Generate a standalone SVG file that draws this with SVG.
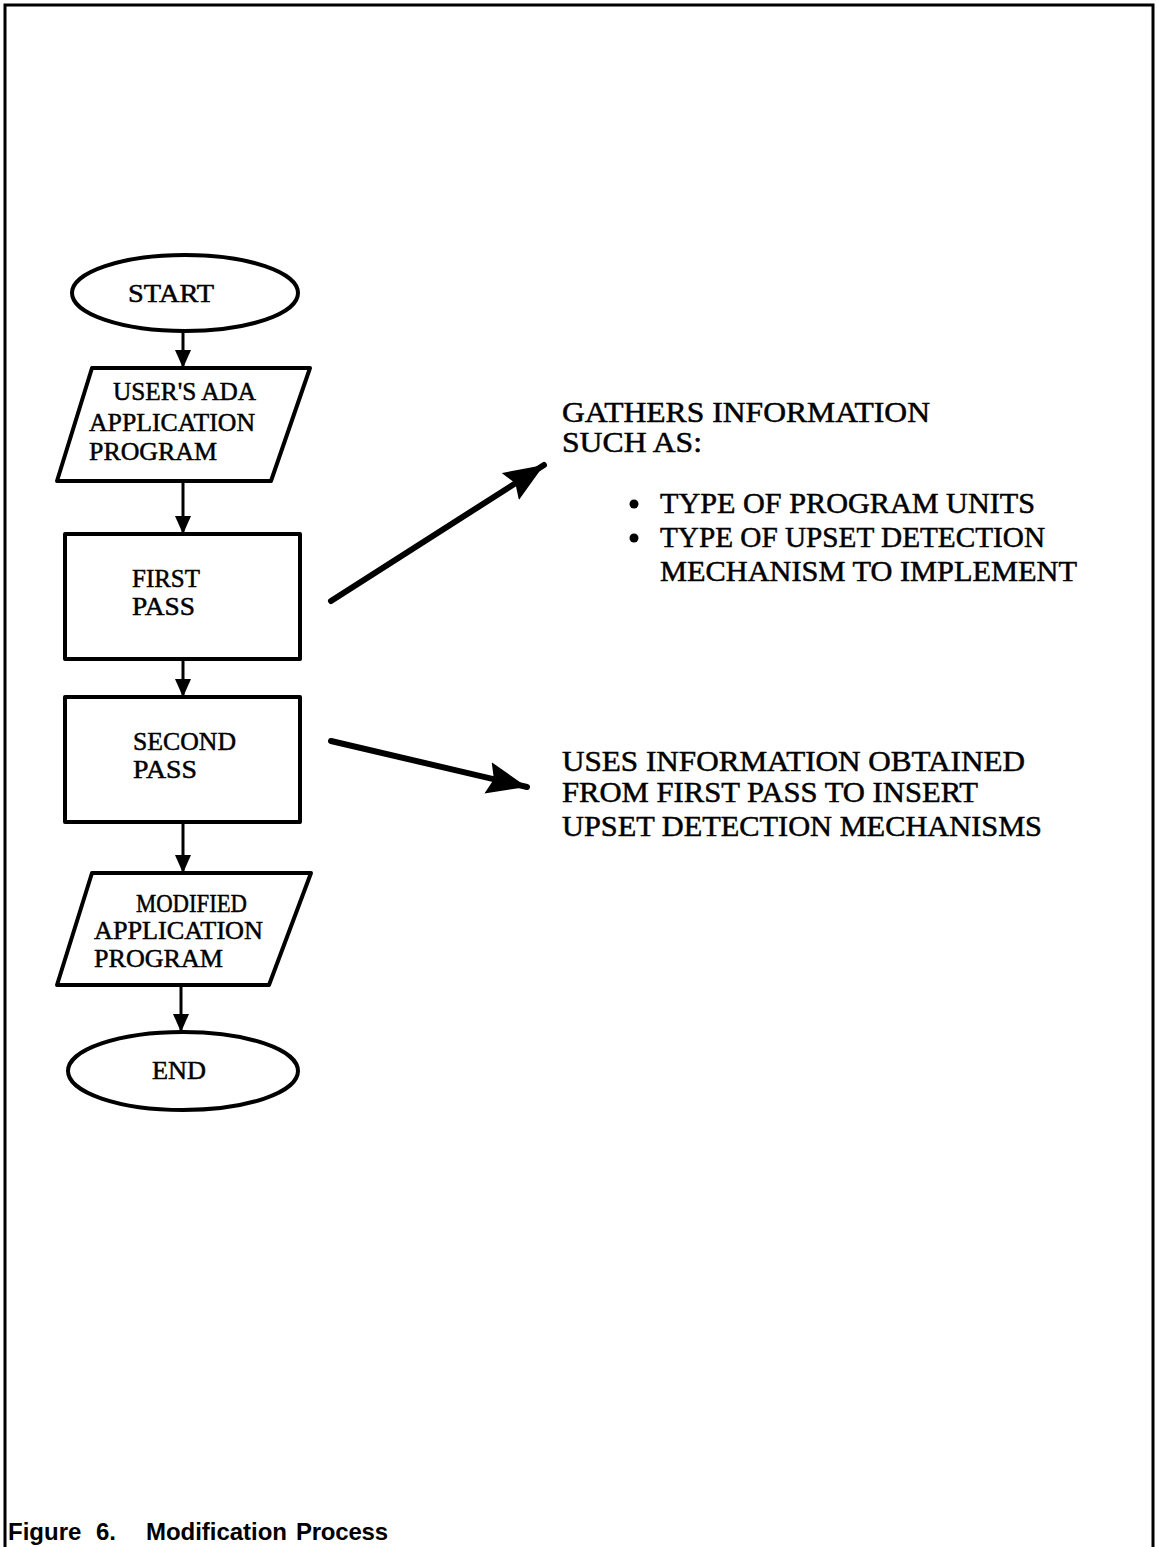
<svg xmlns="http://www.w3.org/2000/svg" width="1157" height="1547" viewBox="0 0 1157 1547">
  <style>
    .shape { fill: #fff; stroke: #000; stroke-width: 4; stroke-linejoin: round; }
    .lbl { font-family: "Liberation Serif", "Times New Roman", serif; font-size: 26px; fill: #000; stroke: #000; stroke-width: 0.5; }
    .note { font-family: "Liberation Serif", "Times New Roman", serif; font-size: 29px; fill: #000; stroke: #000; stroke-width: 0.5; }
    .flow { stroke: #000; stroke-width: 3; fill: none; }
    .pointer { stroke: #000; stroke-width: 6; stroke-linecap: round; fill: none; }
    .caption { font-family: "Liberation Sans", Arial, sans-serif; font-size: 24px; font-weight: bold; fill: #000; }
  </style>
  <defs>
    <marker id="flowHead" markerUnits="userSpaceOnUse" markerWidth="18" markerHeight="18" refX="18" refY="8" orient="auto">
      <path d="M0,0 L18,8 L0,16 Z" fill="#000"/>
    </marker>
    <marker id="bigHead" markerUnits="userSpaceOnUse" markerWidth="42" markerHeight="34" refX="40" refY="16" orient="auto">
      <path d="M0,0 L40,16 L0,32 L6,16 Z" fill="#000"/>
    </marker>
  </defs>

  <rect width="1157" height="1547" fill="#fff"/>

  <!-- page frame, open at the bottom -->
  <path d="M5,1547 V5 H1153 V1547" fill="none" stroke="#000" stroke-width="3"/>

  <!-- flowchart nodes -->
  <g id="start">
    <ellipse class="shape" cx="185" cy="293" rx="113" ry="38"/>
    <text class="lbl" x="128" y="302" textLength="86" lengthAdjust="spacingAndGlyphs">START</text>
  </g>
  <g id="input-program">
    <polygon class="shape" points="92,368 310,368 271,481 57,481"/>
    <text class="lbl" x="113" y="400" textLength="143" lengthAdjust="spacingAndGlyphs">USER'S ADA</text>
    <text class="lbl" x="89" y="431" textLength="166" lengthAdjust="spacingAndGlyphs">APPLICATION</text>
    <text class="lbl" x="89" y="460" textLength="128" lengthAdjust="spacingAndGlyphs">PROGRAM</text>
  </g>
  <g id="first-pass">
    <rect class="shape" x="65" y="534" width="235" height="125"/>
    <text class="lbl" x="132" y="587" textLength="68" lengthAdjust="spacingAndGlyphs">FIRST</text>
    <text class="lbl" x="132" y="615" textLength="63" lengthAdjust="spacingAndGlyphs">PASS</text>
  </g>
  <g id="second-pass">
    <rect class="shape" x="65" y="697" width="235" height="125"/>
    <text class="lbl" x="133" y="750" textLength="103" lengthAdjust="spacingAndGlyphs">SECOND</text>
    <text class="lbl" x="133" y="778" textLength="64" lengthAdjust="spacingAndGlyphs">PASS</text>
  </g>
  <g id="output-program">
    <polygon class="shape" points="92,873 311,873 269,985 57,985"/>
    <text class="lbl" x="136" y="912" textLength="111" lengthAdjust="spacingAndGlyphs">MODIFIED</text>
    <text class="lbl" x="94" y="939" textLength="169" lengthAdjust="spacingAndGlyphs">APPLICATION</text>
    <text class="lbl" x="94" y="967" textLength="129" lengthAdjust="spacingAndGlyphs">PROGRAM</text>
  </g>
  <g id="end">
    <ellipse class="shape" cx="183" cy="1071" rx="115" ry="39"/>
    <text class="lbl" x="152" y="1079" textLength="54" lengthAdjust="spacingAndGlyphs">END</text>
  </g>

  <!-- annotations -->
  <g id="first-pass-note">
    <text class="note" x="562" y="422" textLength="368" lengthAdjust="spacingAndGlyphs">GATHERS INFORMATION</text>
    <text class="note" x="562" y="452" textLength="140" lengthAdjust="spacingAndGlyphs">SUCH AS:</text>
    <circle cx="634" cy="504" r="4.5" fill="#000"/>
    <text class="note" x="660" y="513" textLength="375" lengthAdjust="spacingAndGlyphs">TYPE OF PROGRAM UNITS</text>
    <circle cx="634" cy="538" r="4.5" fill="#000"/>
    <text class="note" x="660" y="547" textLength="385" lengthAdjust="spacingAndGlyphs">TYPE OF UPSET DETECTION</text>
    <text class="note" x="660" y="581" textLength="417" lengthAdjust="spacingAndGlyphs">MECHANISM TO IMPLEMENT</text>
  </g>
  <g id="second-pass-note">
    <text class="note" x="562" y="771" textLength="463" lengthAdjust="spacingAndGlyphs">USES INFORMATION OBTAINED</text>
    <text class="note" x="562" y="802" textLength="416" lengthAdjust="spacingAndGlyphs">FROM FIRST PASS TO INSERT</text>
    <text class="note" x="562" y="836" textLength="480" lengthAdjust="spacingAndGlyphs">UPSET DETECTION MECHANISMS</text>
  </g>

  <!-- connectors -->
  <g id="connectors">
    <line class="flow" x1="183" y1="331" x2="183" y2="368" marker-end="url(#flowHead)"/>
    <line class="flow" x1="183" y1="481" x2="183" y2="534" marker-end="url(#flowHead)"/>
    <line class="flow" x1="183" y1="659" x2="183" y2="697" marker-end="url(#flowHead)"/>
    <line class="flow" x1="183" y1="822" x2="183" y2="873" marker-end="url(#flowHead)"/>
    <line class="flow" x1="181" y1="985" x2="181" y2="1032" marker-end="url(#flowHead)"/>
    <line class="pointer" x1="331" y1="601" x2="544" y2="465" marker-end="url(#bigHead)"/>
    <line class="pointer" x1="331" y1="741" x2="527" y2="787" marker-end="url(#bigHead)"/>
  </g>

  <!-- caption -->
  <text class="caption" x="8" y="1540">Figure</text>
  <text class="caption" x="96" y="1540">6.</text>
  <text class="caption" x="146" y="1540" textLength="141" lengthAdjust="spacing">Modification</text>
  <text class="caption" x="296" y="1540" textLength="92" lengthAdjust="spacing">Process</text>
</svg>
